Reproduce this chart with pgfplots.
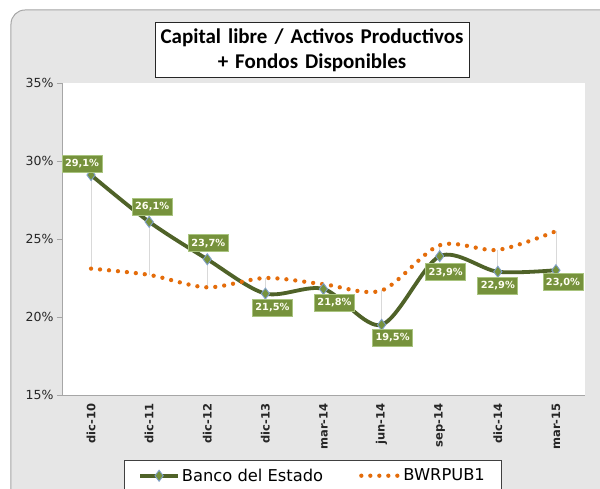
\documentclass[border=0pt]{standalone}
\usepackage{pgfplots}
\pgfplotsset{compat=1.18}
\usepackage{fontspec}
\setmainfont{DejaVu Sans}
\newfontfamily\titlefont{Carlito}
\definecolor{olivedark}{HTML}{4F6228}
\definecolor{olivelab}{HTML}{76923C}
\definecolor{olivebord}{HTML}{A9C47F}
\definecolor{orangedot}{HTML}{E46C0A}
\definecolor{markedge}{HTML}{7F9FC8}
\definecolor{bggray}{HTML}{E6E6E6}
\pgfdeclarelayer{background}
\pgfsetlayers{background,main}

\pgfplotstableread{
x y dx dy lab
0 29.1 -9 11 {29,1\%}
1 26.1 3 15 {26,1\%}
2 23.7 1 16 {23,7\%}
3 21.5 7 -14 {21,5\%}
4 21.8 11 -14 {21,8\%}
5 19.5 11 -13 {19,5\%}
6 23.9 6 -16 {23,9\%}
7 22.9 0 -14 {22,9\%}
8 23.0 7 -12 {23,0\%}
}\banco

\pgfplotstableread{
x y
0 23.1
1 22.7
2 21.9
3 22.5
4 22.1
5 21.7
6 24.6
7 24.3
8 25.5
}\bwr

\begin{document}
\begin{tikzpicture}
\begin{axis}[
  scale only axis, width=523pt, height=312pt,
  xmin=-0.5, xmax=8.5, ymin=15, ymax=35,
  axis background/.style={fill=white},
  axis x line*=bottom, axis y line*=left,
  axis line style={draw=gray!70, line width=0.8pt},
  xtick={0,...,8},
  xticklabels={dic-10,dic-11,dic-12,dic-13,mar-14,jun-14,sep-14,dic-14,mar-15},
  x tick label style={rotate=90, anchor=east, font=\fontsize{11.5}{13}\selectfont\bfseries, text=black!85},
  major x tick style={draw=none},
  ytick={15,20,25,30,35},
  yticklabel={\pgfmathprintnumber{\tick}\%},
  /pgf/number format/assume math mode=true,
  y tick label style={font=\fontsize{12.5}{14}\selectfont, text=black!85},
  major y tick style={draw=gray!70, line width=0.8pt},
  tick align=outside, major tick length=5pt,
  clip=false,
  legend style={at={(0.479,-0.207)}, anchor=north, draw=black!75, fill=white,
    font=\fontsize{16.3}{19}\selectfont, legend columns=2,
    /tikz/every even column/.append style={column sep=34pt},
    inner xsep=14pt, inner ysep=7pt},
  legend cell align=left,
  legend image code/.code={\draw[mark repeat=2,mark phase=2,#1] plot coordinates {(0pt,0pt) (19pt,0pt) (38pt,0pt)};},
]
\coordinate (O) at (rel axis cs:0,0);
% drop lines
\addplot[forget plot, draw=gray!30, line width=0.8pt, unbounded coords=jump] coordinates {
(0,23.1) (0,29.1) (0,nan)
(1,22.7) (1,26.1) (1,nan)
(2,21.9) (2,23.7) (2,nan)
(3,22.5) (3,21.5) (3,nan)
(4,22.1) (4,21.8) (4,nan)
(5,21.7) (5,19.5) (5,nan)
(6,24.6) (6,23.9) (6,nan)
(7,24.3) (7,22.9) (7,nan)
(8,25.5) (8,23.0)
};
\addplot[olivedark, line width=3.8pt, smooth, tension=0.5,
  mark=diamond*, mark size=5.5pt,
  mark options={fill=olivelab, draw=markedge, line width=0.9pt, solid}]
  table[x=x,y=y] {\banco};
\addlegendentry{Banco del Estado}
\addplot[orangedot, line width=4.3pt, smooth, tension=0.5, line cap=round,
  dash pattern=on 0pt off 9pt]
  table[x=x,y=y] {\bwr};
\addlegendentry{BWRPUB1}
% data labels
\addplot[only marks, mark=none, forget plot,
  visualization depends on={\thisrow{dx} \as \mydx},
  visualization depends on={\thisrow{dy} \as \mydy},
  nodes near coords={\pgfplotstablegetelem{\coordindex}{lab}\of\banco\pgfplotsretval},
  every node near coord/.style={anchor=center, xshift=\mydx pt, yshift=\mydy pt,
    fill=olivelab, draw=olivebord, line width=0.8pt, text=white!95!yellow,
    font=\fontsize{9.8}{11}\selectfont\bfseries,
    text height=7.4pt, text depth=1.6pt,
    inner xsep=3pt, inner ysep=4pt}]
  table[x=x,y=y] {\banco};
\end{axis}
\begin{pgfonlayer}{background}
\begin{scope}
\clip ([shift={(-62pt,-94pt)}]O) rectangle ([shift={(538pt,395pt)}]O);
\fill[bggray, draw=gray!70, line width=1pt, rounded corners=14pt]
  ([shift={(-51pt,-124pt)}]O) rectangle ([shift={(578pt,385pt)}]O);
\end{scope}
\end{pgfonlayer}
\node[draw=black!85, fill=white, line width=0.9pt, align=center,
  font=\titlefont\fontsize{21}{25}\selectfont\bfseries, inner xsep=4pt, inner ysep=6pt,
  text width=306pt]
  at ([shift={(250pt,345pt)}]O) {Capital libre / Activos Productivos\\+ Fondos Disponibles};
\pgfresetboundingbox
\useasboundingbox ([shift={(-62pt,-94pt)}]O) rectangle ([shift={(538pt,395pt)}]O);
\end{tikzpicture}
\end{document}
